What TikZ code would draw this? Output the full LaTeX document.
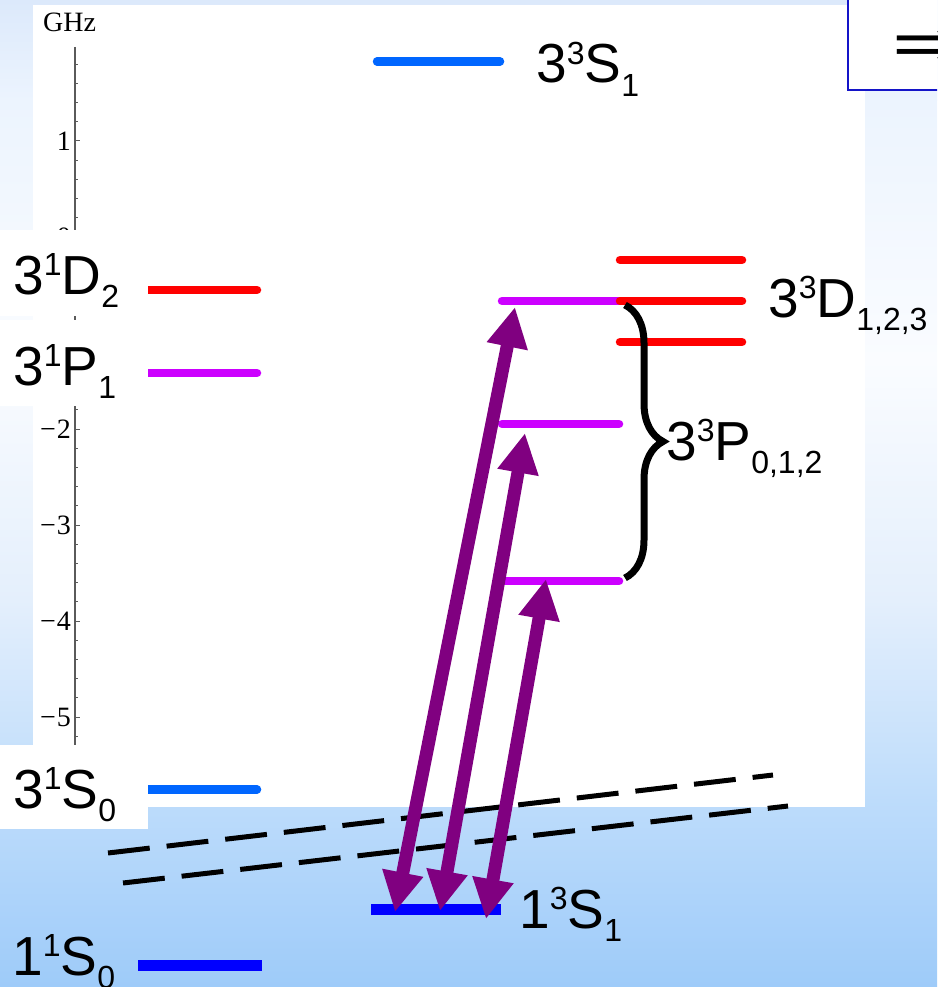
\documentclass[tikz,border=0pt]{standalone}
\usepackage{fontspec}
\setmainfont{Liberation Sans}
\newfontfamily\axisfont{Liberation Serif}
\newfontfamily\arrowfont{DejaVu Sans}
\usetikzlibrary{arrows.meta, decorations.pathreplacing}

\definecolor{bgzero}{RGB}{220,233,251}
\definecolor{bgone}{RGB}{236,244,254}
\definecolor{bgtwo}{RGB}{250,252,255}
\definecolor{bgthree}{RGB}{228,239,252}
\definecolor{bgfour}{RGB}{189,220,251}
\definecolor{bgfive}{RGB}{158,203,249}
\definecolor{lvlred}{RGB}{255,0,0}
\definecolor{lvlmag}{RGB}{204,0,255}
\definecolor{lvlsky}{RGB}{0,102,255}
\definecolor{lvlblue}{RGB}{0,0,255}
\definecolor{transpurple}{RGB}{128,0,128}
\definecolor{boxblue}{RGB}{20,20,200}
\definecolor{axisgray}{RGB}{90,90,90}

\newcommand{\statefont}{\fontsize{55}{60}\selectfont}
\newcommand{\scriptidxfont}{\fontsize{32}{34}\selectfont}
\newcommand{\stateterm}[4]{#1\raisebox{0.34em}{\scriptidxfont #2}#3\raisebox{-0.24em}{\scriptidxfont #4}}

\begin{document}
\begin{tikzpicture}[x=1pt, y=-1pt,
  lvline/.style={line width=8.5pt, line cap=round},
  gndline/.style={line width=11pt, lvlblue},
  lbl/.style={anchor=base west, inner sep=0pt, font=\statefont},
  labelbox/.style={fill=white, draw=none},
  ticklbl/.style={anchor=east, inner sep=0pt, font=\axisfont\fontsize{28}{30}\selectfont},
  transarrow/.style={line width=13pt, transpurple,
    {Triangle[length=40pt,width=39pt]}-{Triangle[length=40pt,width=39pt]}},
  cutline/.style={line width=5pt, dash pattern=on 42pt off 17pt}
]
  \useasboundingbox (0,0) rectangle (937,987);
  \clip (0,0) rectangle (937,987);

  % Background
  \shade[top color=bgzero, bottom color=bgone]    (0,0)   rectangle (937,101);
  \shade[top color=bgone, bottom color=bgtwo]     (0,100) rectangle (937,361);
  \shade[top color=bgtwo, bottom color=bgthree]   (0,360) rectangle (937,601);
  \shade[top color=bgthree, bottom color=bgfour]  (0,600) rectangle (937,801);
  \shade[top color=bgfour, bottom color=bgfive]   (0,800) rectangle (937,987);

  % Plot panel
  \fill[white] (33,5) rectangle (865,807);

  % Frequency axis
  \draw[axisgray, line width=1.2pt] (75,47) -- (75,748);
  \foreach \v in {-26,...,9}{
    \draw[axisgray, line width=1pt] (75,{237-19.2*\v}) -- ++(2.5,0);
  }
  \foreach \v in {-5,...,1}{
    \draw[axisgray, line width=1pt] (75,{237-96*\v}) -- ++(4.5,0);
  }
  \foreach \v/\t in {1/1, 0/0, -1/−\kern1pt 1, -2/−\kern1pt 2, -3/−\kern1pt 3, -4/−\kern1pt 4, -5/−\kern1pt 5}{
    \node[ticklbl] (tk\v) at (71,{237-96*\v}) {\t};
  }
  \node[anchor=base west, inner sep=0pt, font=\axisfont\fontsize{28}{30}\selectfont]
       (unit) at (43,32) {GHz};

  % Triplet levels n=3
  \draw[lvline, lvlsky] (377,61.5) -- (500,61.5);
  \foreach \y in {301,424,581}{
    \draw[lvline, lvlmag] (502,\y) -- (619,\y);
  }
  \foreach \y in {260,301,342}{
    \draw[lvline, lvlred] (620,\y) -- (742,\y);
  }

  % Singlet levels n=3
  \draw[lvline, lvlred] (140,290) -- (257,290);
  \draw[lvline, lvlmag] (140,373) -- (257,373);
  \draw[lvline, lvlsky] (140,789.5) -- (257,789.5);

  % Ground levels
  \draw[gndline] (371,909) -- (501,909);
  \draw[gndline] (138,965.5) -- (262,965.5);

  % Label boxes
  \fill[labelbox] (0,230) rectangle (148,316);
  \fill[labelbox] (0,320) rectangle (148,406);
  \fill[labelbox] (0,745) rectangle (148,829);

  % Labels
  \node[lbl] (l33S1) at (536,83)  {\stateterm{3}{3}{S}{1}};
  \node[lbl] (l31D2) at (13,294)  {\stateterm{3}{1}{D}{2}};
  \node[lbl] (l31P1) at (13,385)  {\stateterm{3}{1}{P}{1}};
  \node[lbl] (l31S0) at (13,808)  {\stateterm{3}{1}{S}{0}};
  \node[lbl] (l11S0) at (12,975)  {\stateterm{1}{1}{S}{0}};
  \node[lbl] (l33D)  at (768,317) {\stateterm{3}{3}{D}{1,2,3}};
  \node[lbl] (l33P)  at (666,460) {\stateterm{3}{3}{P}{0,1,2}};
  \node[lbl] (l13S1) at (519,928) {\stateterm{1}{3}{S}{1}};

  % Fine-structure brace
  \coordinate (brtop) at (625,305);
  \coordinate (brbot) at (625,578);
  \draw[decorate, decoration={brace, amplitude=38pt}, line width=7pt] (brtop) -- (brbot);

  % Broken energy scale
  \coordinate (cutAa) at (108,853);
  \coordinate (cutAb) at (773,775);
  \coordinate (cutBa) at (123,883);
  \coordinate (cutBb) at (788,806);
  \draw[cutline] (cutAa) -- (cutAb);
  \draw[cutline] (cutBa) -- (cutBb);

  % Transitions 1^3S_1 <-> 3^3P_J
  \coordinate (upA) at (515,307);
  \coordinate (dnA) at (395,912);
  \coordinate (upB) at (525,433);
  \coordinate (dnB) at (440,911);
  \coordinate (upC) at (546,579);
  \coordinate (dnC) at (486,919);
  \draw[transarrow] (dnA) -- (upA);
  \draw[transarrow] (dnB) -- (upB);
  \draw[transarrow] (dnC) -- (upC);

  % Cut-off box top right
  \draw[boxblue, line width=2.5pt, fill=white] (848,-20) rectangle (990,90);
  \node[anchor=west, inner sep=0pt, font=\arrowfont\fontsize{84}{84}\selectfont]
       (implies) at (892,49) {⇒};
\end{tikzpicture}
\end{document}
